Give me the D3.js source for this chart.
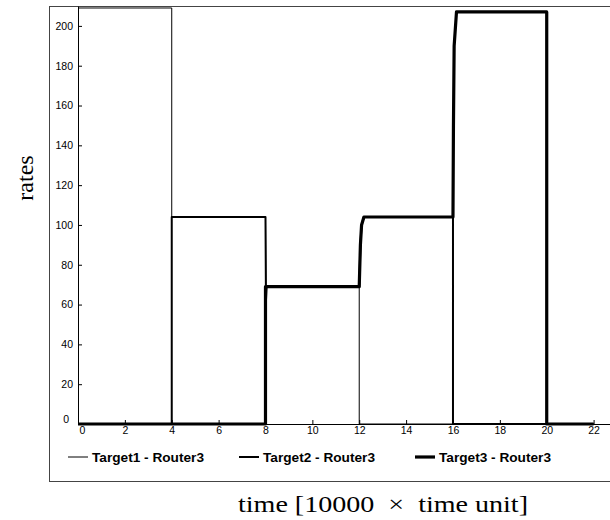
<!DOCTYPE html>
<html>
<head>
<meta charset="utf-8">
<script src="https://cdn.jsdelivr.net/npm/d3@7"></script>
<style>
	body { margin: 0; background: #fff; }
	svg { display: block; }
	.tick text { font-family: "Liberation Sans", Arial, sans-serif; font-size: 10.5px; fill: #000; }
	.legende text { font-family: "Liberation Sans", Arial, sans-serif; font-size: 13px; font-weight: bold; }
	.titre { font-family: "Liberation Serif", "Times New Roman", serif; font-size: 24px; }
</style>
</head>
<body>
<div id="chart"></div>
<script>
// donnees
var seriesNames = ["Target1 - Router3", "Target2 - Router3", "Target3 - Router3"];

var t1Time = [0, 4, 4, 8, 8.02, 8.05, 12, 12, 22];
var t1Rate = [209, 209, 104, 104, 62, 69, 69, 0, 0];

var t2Time = [0, 4, 4, 8, 8.02, 8.05, 12, 12.05, 12.1, 12.2, 16, 16, 22];
var t2Rate = [0, 0, 104, 104, 62, 69, 69, 90, 100, 104, 104, 0, 0];

var t3Time = [0, 8, 8, 12, 12.05, 12.1, 12.2, 16, 16.02, 16.05, 16.15, 20, 20, 22];
var t3Rate = [0, 0, 69, 69, 90, 100, 104, 104, 150, 190, 207, 207, 0, 0];

var xTicks = [0, 2, 4, 6, 8, 10, 12, 14, 16, 18, 20, 22];
var yTicks = [0, 20, 40, 60, 80, 100, 120, 140, 160, 180, 200];

var lineWidths = [1, 2, 3.2];

(function () {
	var width = 610, height = 520;
	// attention: "top" est reserve par window
	var mLeft = 78, mTop = 6, mRight = 610, mBottom = 424;

	var svg = d3.select("#chart").append("svg")
		.attr("width", width)
		.attr("height", height);

	// cadre exterieur
	svg.append("rect")
		.attr("x", 49.5).attr("y", 6.5)
		.attr("width", 600).attr("height", 475)
		.attr("fill", "none")
		.attr("stroke", "#444")
		.attr("stroke-width", 1);

	var x = d3.scaleLinear().domain([0, 22.7]).range([mLeft, mRight]);
	var y = d3.scaleLinear().domain([0, 210]).range([mBottom, mTop]);

	var xAxis = svg.append("g")
		.attr("transform", "translate(0," + mBottom + ")")
		.call(d3.axisBottom(x).tickValues(xTicks).tickSizeInner(-4).tickSizeOuter(0).tickPadding(3));
	var yAxis = svg.append("g")
		.attr("transform", "translate(" + mLeft + ",0)")
		.call(d3.axisLeft(y).tickValues(yTicks).tickSizeInner(-4).tickSizeOuter(0).tickPadding(5));

	xAxis.select(".domain").attr("stroke", "#000");
	yAxis.select(".domain").attr("stroke", "#000");
	// le zero est decale pour ne pas toucher le coin
	xAxis.selectAll(".tick text").filter(function (d) { return d === 0; }).attr("dx", 4);
	yAxis.selectAll(".tick text").filter(function (d) { return d === 0; }).attr("dx", -4).attr("dy", "-0.1em");

	var series = [
		{ time: t1Time, rate: t1Rate },
		{ time: t2Time, rate: t2Rate },
		{ time: t3Time, rate: t3Rate }
	];

	var line = d3.line()
		.x(function (d) { return x(d[0]); })
		.y(function (d) { return y(d[1]); });

	series.forEach(function (s, i) {
		var pts = s.time.map(function (t, j) { return [t, s.rate[j]]; });
		svg.append("path")
			.datum(pts)
			.attr("d", line)
			.attr("fill", "none")
			.attr("stroke", "#000")
			.attr("stroke-width", lineWidths[i])
			.attr("stroke-linejoin", "round");
	});

	// legende
	var legX = [68, 239, 415];
	var leg = svg.append("g").attr("class", "legende");
	seriesNames.forEach(function (n, i) {
		leg.append("line")
			.attr("x1", legX[i]).attr("x2", legX[i] + 20)
			.attr("y1", 457).attr("y2", 457)
			.attr("stroke", "#000")
			.attr("stroke-width", lineWidths[i]);
		leg.append("text")
			.attr("x", legX[i] + 24).attr("y", 462)
			.attr("textLength", 112)
			.attr("lengthAdjust", "spacingAndGlyphs")
			.text(n);
	});

	// titres des axes
	svg.append("text")
		.attr("class", "titre")
		.attr("transform", "translate(33,178) rotate(-90)")
		.attr("text-anchor", "middle")
		.text("rates");

	svg.append("text")
		.attr("class", "titre")
		.attr("x", 238).attr("y", 512)
		.attr("textLength", 290)
		.attr("lengthAdjust", "spacingAndGlyphs")
		.text("time [10000 \u00a0\u00d7\u00a0 time unit]");
})();
</script>
</body>
</html>
